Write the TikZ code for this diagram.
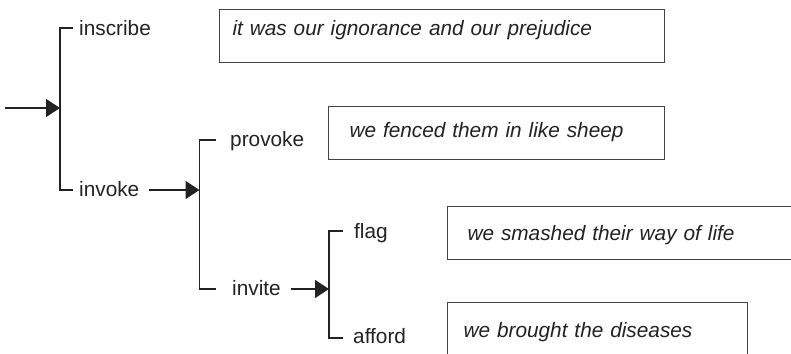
\documentclass[tikz,border=0pt]{standalone}
\usepackage{fontspec}
\setmainfont{Liberation Sans}
\usetikzlibrary{arrows.meta}
\definecolor{ink}{HTML}{222222}
\begin{document}
\begin{tikzpicture}[x=1pt,y=-1pt,
  ink/.style={draw=ink,text=ink},
  term/.style={anchor=base west,inner sep=0pt,text=ink,font=\fontsize{20.8}{25}\selectfont},
  quote/.style={draw=ink!85,line width=1pt,anchor=north west,inner ysep=0pt,align=left,
    text=ink,font=\fontsize{20.8}{25}\selectfont\itshape},
  bracket/.style={draw=ink,line width=1.4pt},
  feed/.style={draw=ink,line width=1.3pt,-{Triangle[length=14pt,width=18pt]}}]
\useasboundingbox (0,0) rectangle (791,353);
\clip (0,0) rectangle (791,353);

% labels on the branches
\node[term] (inscribe) at (79,36)  {inscribe};
\node[term] (invoke)   at (79,196) {invoke};
\node[term] (provoke)  at (230,146) {provoke};
\node[term] (invite)   at (232,295) {invite};
\node[term] (flag)     at (354,238) {flag};
\node[term] (afford)   at (353,343) {afford};

% quotations
\node[quote,inner xsep=13pt,text width=419pt,text height=26pt,text depth=27pt] (q1) at (219,9)
  {it was our ignorance and our prejudice};
\node[quote,inner xsep=21pt,text width=294pt,text height=31pt,text depth=22pt] (q2) at (328,106)
  {we fenced them in like sheep};
\node[quote,inner xsep=20pt,text width=320pt,text height=34pt,text depth=19pt] (q3) at (447,206)
  {we smashed their way of life};
\node[quote,inner xsep=16pt,text width=268pt,text height=35pt,text depth=25pt] (q4) at (447,302)
  {we brought the diseases};

% bracket ends and junction points
\coordinate (b1a) at (73,28);   \coordinate (b1b) at (73,190);
\coordinate (b2a) at (216,140); \coordinate (b2b) at (216,289);
\coordinate (b3a) at (343,231); \coordinate (b3b) at (343,338);
\coordinate (src) at (5,108);   \coordinate (j1) at (60,108);
\coordinate (s2) at (149,190);  \coordinate (j2) at (199.5,190);
\coordinate (s3) at (291,289);  \coordinate (j3) at (329,289);

% brackets
\draw[bracket] (b1a) -| (j1) |- (b1b);
\draw[bracket] (b2a) -| (j2) |- (b2b);
\draw[bracket] (b3a) -| (j3) |- (b3b);

% arrows into the brackets
\draw[feed] (src) -- (j1);
\draw[feed] (s2) -- (j2);
\draw[feed] (s3) -- (j3);
\end{tikzpicture}
\end{document}
